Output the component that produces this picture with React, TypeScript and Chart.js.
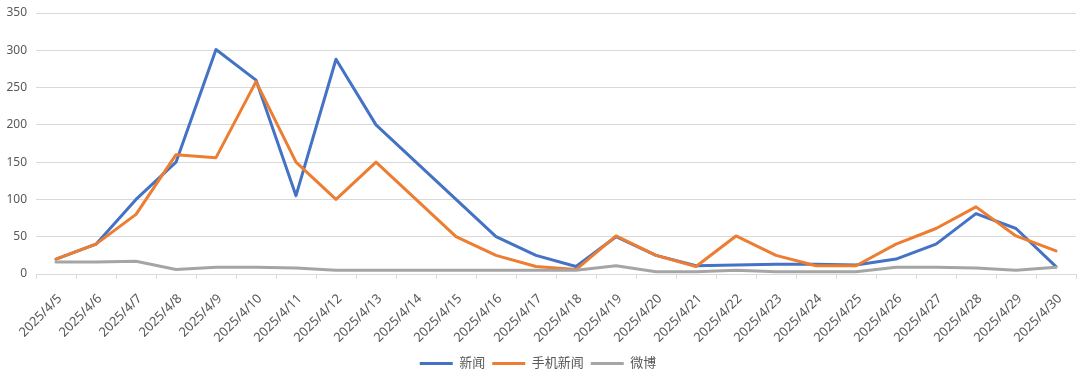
import React, { useEffect, useRef } from "react";
import { Chart, registerables } from "chart.js";

Chart.register(...registerables);

const categories = [
  "2025/4/5", "2025/4/6", "2025/4/7", "2025/4/8", "2025/4/9", "2025/4/10",
  "2025/4/11", "2025/4/12", "2025/4/13", "2025/4/14", "2025/4/15", "2025/4/16",
  "2025/4/17", "2025/4/18", "2025/4/19", "2025/4/20", "2025/4/21", "2025/4/22",
  "2025/4/23", "2025/4/24", "2025/4/25", "2025/4/26", "2025/4/27", "2025/4/28",
  "2025/4/29", "2025/4/30",
];

const news = [20, 40, 100, 150, 301, 260, 105, 288, 200, 150, 100, 50, 25, 10, 50, 25, 11, 12, 13, 13, 12, 20, 40, 81, 61, 10];
const mobileNews = [20, 40, 80, 160, 156, 258, 150, 100, 150, 100, 50, 25, 10, 6, 51, 25, 10, 51, 25, 11, 11, 40, 61, 90, 51, 31];
const weibo = [16, 16, 17, 6, 9, 9, 8, 5, 5, 5, 5, 5, 5, 5, 11, 3, 3, 5, 3, 3, 3, 9, 9, 8, 5, 9];

const seriesNames = ["新闻", "手机新闻", "微博"];
const seriesColors = ["#4472C4", "#ED7D31", "#A5A5A5"];

const yMin = 0;
const yMax = 350;
const yStep = 50;

const FONT = "'Noto Sans', 'Noto Sans CJK SC', sans-serif";

export default function App() {
  const ref = useRef<HTMLCanvasElement | null>(null);

  useEffect(() => {
    if (!ref.current) return;
    const values = [news, mobileNews, weibo];
    const chart = new Chart(ref.current, {
      type: "line",
      data: {
        labels: categories,
        datasets: values.map((v, i) => ({
          label: seriesNames[i],
          data: v,
          borderColor: seriesColors[i],
          backgroundColor: seriesColors[i],
          borderWidth: 3,
          pointRadius: 0,
          pointHoverRadius: 0,
          pointStyle: "line",
          tension: 0,
          borderJoinStyle: "round",
          borderCapStyle: "round",
          order: 3 - i,
        })),
      },
      options: {
        responsive: false,
        animation: false,
        layout: { padding: { top: 13, right: 4, bottom: -4, left: 0 } },
        plugins: {
          title: { display: false },
          tooltip: { enabled: false },
          legend: {
            position: "bottom",
            labels: {
              usePointStyle: true,
              pointStyleWidth: 33,
              padding: 7,
              color: "#595959",
              font: { family: FONT, size: 13 },
              sort: (a: any, b: any) => a.datasetIndex - b.datasetIndex,
            },
          },
        },
        scales: {
          x: {
            type: "category",
            offset: true,
            grid: {
              offset: true,
              drawOnChartArea: false,
              drawTicks: true,
              tickLength: 5,
              color: "#d9d9d9",
            },
            border: { display: true, color: "#d9d9d9" },
            ticks: {
              autoSkip: false,
              minRotation: 45,
              maxRotation: 45,
              padding: 12,
              labelOffset: 4,
              color: "#595959",
              font: { family: FONT, size: 13 },
            },
            afterFit: (scale: any) => {
              scale.height = 76;
            },
          },
          y: {
            min: yMin,
            max: yMax,
            grid: { color: "#d9d9d9", drawTicks: false, lineWidth: 1 },
            border: { display: false },
            ticks: {
              stepSize: yStep,
              padding: 9,
              color: "#595959",
              font: { family: FONT, size: 12 },
            },
            afterFit: (scale: any) => {
              scale.width = 36;
              scale.paddingTop = 0;
              scale.paddingBottom = 0;
            },
          },
        },
      },
    });
    return () => chart.destroy();
  }, []);

  return (
    <div style={{ position: "absolute", left: 0, top: 0, width: 1080, height: 376, background: "#fff" }}>
      <canvas ref={ref} width={1080} height={376} style={{ display: "block" }} />
    </div>
  );
}
